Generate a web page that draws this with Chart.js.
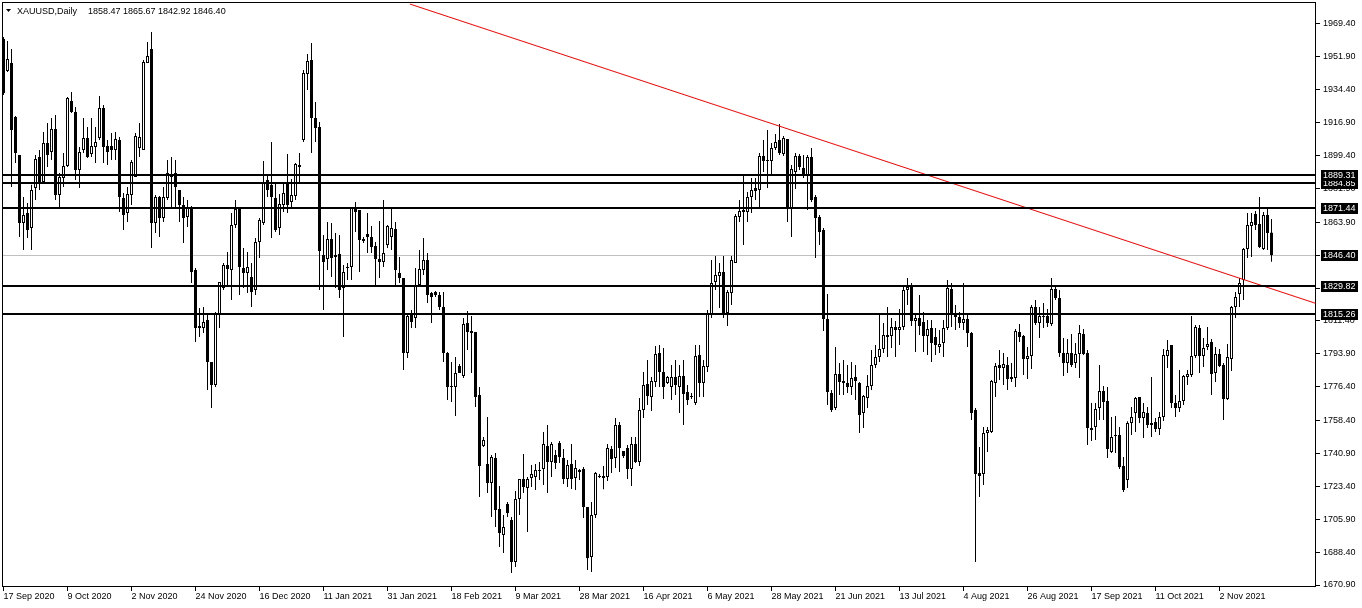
<!DOCTYPE html>
<html>
<head>
<meta charset="utf-8">
<title>XAUUSD Daily</title>
<script src="https://cdn.jsdelivr.net/npm/chart.js@4"></script>
<style>
  html, body { margin: 0; padding: 0; background: #fff; }
  canvas { display: block; }
</style>
</head>
<body>
<canvas id="grafica" width="1362" height="608"></canvas>
<script>
// velas diarias XAUUSD (17 Sep 2020 -> 19 Nov 2021)
const openP = [
  1961.4,1944.4,1948.6,1919.9,1899.7,1863.5,1868.8,1860.8,1882.1,1898.6,
  1885.3,1906.1,1901.3,1913.5,1878.4,1887.5,1893.8,1928.4,1922.6,1891.7,
  1902.4,1908.8,1900.2,1903.9,1908.8,1924.7,1904.5,1904.5,1902.4,1907.7,
  1876.8,1868.8,1878.4,1888.0,1903.4,1902.4,1948.6,1956.1,1863.5,1877.3,
  1866.2,1876.8,1888.0,1890.1,1881.1,1873.1,1866.7,1872.0,1838.5,1808.7,
  1807.6,1811.9,1789.6,1777.3,1814.6,1828.9,1841.2,1838.5,1862.4,1871.0,
  1839.6,1836.9,1834.8,1827.9,1853.4,1863.5,1886.4,1883.8,1876.8,1860.8,
  1873.1,1884.8,1874.7,1877.9,1894.4,1907.7,1942.8,1950.2,1919.4,1914.6,
  1846.5,1844.4,1855.0,1846.5,1847.0,1828.9,1839.6,1840.1,1871.5,1870.4,
  1853.9,1857.6,1856.1,1851.3,1844.4,1842.8,1851.8,1856.1,1860.3,1836.9,
  1834.3,1794.3,1815.6,1813.0,1830.5,1838.5,1843.8,1826.3,1826.8,1825.2,
  1818.8,1794.3,1776.8,1776.2,1787.4,1782.1,1810.3,1806.0,1805.5,1772.0,
  1744.9,1735.3,1725.2,1738.5,1711.3,1697.5,1714.0,1705.5,1683.1,1716.7,
  1727.3,1722.5,1727.9,1728.4,1731.6,1732.6,1744.9,1736.3,1740.1,1746.4,
  1738.5,1727.3,1735.3,1727.9,1732.1,1732.6,1712.4,1685.8,1708.1,1728.4,
  1727.9,1728.4,1743.3,1738.5,1756.0,1742.2,1743.8,1732.6,1745.9,1736.3,
  1764.0,1777.8,1770.9,1778.9,1794.3,1784.2,1778.4,1776.2,1781.6,1776.2,
  1782.1,1773.6,1771.5,1767.7,1793.3,1778.4,1786.9,1814.6,1832.1,1835.3,
  1837.4,1815.6,1826.3,1842.2,1866.7,1869.4,1869.4,1877.3,1882.1,1881.1,
  1899.2,1896.5,1896.5,1903.4,1907.7,1900.2,1908.2,1871.5,1890.6,1899.2,
  1892.8,1889.1,1898.6,1877.3,1866.7,1859.8,1812.4,1773.1,1765.1,1783.2,
  1778.4,1778.4,1776.2,1781.6,1778.4,1762.4,1770.4,1776.8,1787.9,1792.2,
  1796.5,1803.9,1803.4,1808.2,1806.6,1808.2,1827.9,1830.5,1811.4,1813.0,
  1810.8,1803.4,1807.6,1802.8,1797.5,1799.7,1807.6,1828.4,1814.6,1813.5,
  1810.3,1812.4,1805.0,1764.0,1730.5,1730.0,1751.8,1752.3,1778.4,1787.9,
  1786.3,1787.9,1780.5,1781.0,1805.5,1803.4,1791.1,1792.7,1818.8,1810.3,
  1813.5,1814.0,1809.8,1828.4,1823.6,1794.3,1789.0,1794.3,1789.0,1793.8,
  1804.5,1794.3,1754.4,1755.0,1765.1,1774.1,1768.8,1741.7,1750.7,1750.7,
  1734.2,1726.8,1757.1,1762.4,1770.9,1759.8,1762.4,1756.0,1757.6,1753.9,
  1760.3,1792.7,1798.6,1767.7,1765.1,1768.8,1781.6,1782.6,1792.7,1807.6,
  1792.7,1797.5,1800.2,1783.7,1793.8,1787.9,1769.9,1791.1,1818.8,1825.7,
  1833.2,1849.7,1861.9,1868.3,1863.0,1849.7,1867.8,1858.47
];
const highP = [
  1962.5,1960.3,1956.1,1920.4,1899.7,1877.3,1874.2,1883.8,1899.7,1902.4,
  1911.9,1916.7,1919.4,1921.0,1890.1,1900.8,1930.5,1933.2,1925.2,1904.0,
  1919.4,1914.6,1919.4,1914.6,1931.1,1926.3,1907.7,1911.4,1911.9,1909.3,
  1879.5,1882.7,1897.0,1911.4,1916.7,1950.2,1959.8,1965.1,1878.4,1877.9,
  1882.7,1897.0,1898.6,1897.0,1881.1,1877.3,1875.8,1872.6,1839.6,1818.3,
  1818.8,1815.6,1789.6,1816.2,1832.1,1842.2,1848.1,1868.8,1875.8,1871.0,
  1850.2,1848.1,1842.2,1855.5,1866.2,1896.5,1889.1,1906.6,1884.8,1878.9,
  1884.8,1900.2,1886.9,1895.4,1900.8,1944.9,1953.4,1959.3,1927.9,1917.3,
  1857.1,1864.0,1863.5,1858.2,1857.1,1841.2,1842.2,1872.0,1874.7,1870.4,
  1856.1,1868.8,1861.9,1853.4,1864.6,1875.8,1862.4,1872.0,1864.0,1845.4,
  1834.3,1814.6,1817.2,1839.6,1849.2,1855.5,1847.5,1826.8,1827.3,1826.8,
  1826.8,1794.9,1789.6,1792.2,1788.5,1813.0,1816.7,1814.0,1805.5,1776.2,
  1749.6,1760.3,1740.1,1741.1,1723.6,1708.1,1715.1,1707.1,1720.9,1727.3,
  1740.6,1728.4,1734.8,1735.3,1736.3,1752.3,1756.0,1747.0,1742.7,1747.5,
  1743.3,1737.4,1745.9,1737.4,1732.6,1733.7,1712.4,1715.1,1731.0,1730.0,
  1734.2,1745.9,1744.9,1759.8,1757.6,1742.2,1745.4,1749.6,1749.6,1770.4,
  1784.2,1790.6,1781.6,1798.1,1798.6,1797.0,1782.1,1787.9,1790.6,1787.9,
  1790.6,1777.3,1773.1,1798.6,1798.6,1790.6,1817.2,1843.8,1845.9,1842.2,
  1845.9,1827.9,1845.9,1868.3,1875.8,1889.1,1880.0,1887.5,1887.5,1900.8,
  1907.7,1913.0,1906.1,1910.9,1916.2,1909.8,1908.2,1894.4,1900.8,1900.2,
  1899.7,1899.7,1903.4,1878.4,1867.8,1860.8,1825.7,1774.7,1797.5,1789.0,
  1790.6,1787.9,1789.6,1787.9,1778.9,1772.0,1782.6,1795.9,1798.6,1815.6,
  1810.3,1818.8,1813.0,1811.4,1817.8,1830.5,1834.3,1831.6,1815.6,1825.2,
  1816.2,1811.9,1811.9,1807.6,1806.6,1811.9,1833.2,1831.6,1819.9,1816.2,
  1831.6,1815.6,1805.5,1765.1,1744.3,1755.0,1755.0,1780.0,1789.0,1795.9,
  1794.3,1792.2,1789.0,1807.1,1809.8,1803.9,1797.5,1819.9,1822.5,1818.8,
  1820.9,1817.8,1834.3,1830.5,1827.9,1802.3,1801.8,1804.5,1799.7,1809.2,
  1807.1,1795.9,1767.7,1767.7,1787.9,1776.8,1776.2,1760.3,1760.8,1755.0,
  1739.0,1758.0,1765.6,1770.9,1770.9,1767.7,1765.6,1781.6,1759.8,1762.9,
  1796.5,1801.3,1798.6,1772.0,1785.3,1782.6,1785.3,1814.0,1809.2,1809.2,
  1802.3,1808.2,1801.8,1797.5,1796.5,1789.0,1799.1,1819.4,1826.8,1834.3,
  1850.2,1868.8,1868.8,1869.9,1877.3,1869.4,1872.0,1865.67
];
const lowP = [
  1931.6,1943.9,1882.7,1895.4,1856.1,1849.2,1855.5,1849.2,1875.8,1881.1,
  1884.8,1893.3,1897.0,1875.8,1872.0,1882.7,1893.3,1922.0,1886.4,1882.1,
  1900.8,1898.1,1898.6,1895.4,1907.7,1895.4,1894.4,1897.0,1897.0,1869.4,
  1859.8,1864.0,1873.1,1888.0,1898.6,1902.4,1948.6,1850.2,1858.2,1856.1,
  1864.0,1875.8,1872.0,1872.0,1864.0,1852.9,1861.4,1831.6,1800.2,1802.8,
  1805.0,1774.7,1765.1,1776.2,1807.6,1827.9,1829.5,1822.5,1860.8,1825.2,
  1828.9,1826.3,1818.8,1825.2,1844.9,1862.4,1877.3,1855.5,1858.7,1857.1,
  1869.4,1868.8,1872.0,1875.8,1885.3,1906.6,1934.3,1900.8,1906.6,1827.9,
  1817.2,1838.5,1834.8,1828.9,1823.6,1802.8,1833.2,1833.2,1858.7,1837.4,
  1852.9,1847.5,1847.5,1830.5,1834.3,1840.1,1850.2,1849.2,1829.5,1831.6,
  1785.3,1791.7,1807.6,1807.6,1829.5,1835.8,1821.0,1810.3,1824.1,1817.2,
  1789.6,1769.3,1768.3,1760.8,1783.7,1781.0,1795.9,1783.7,1765.6,1717.7,
  1744.3,1719.8,1707.1,1701.8,1691.1,1687.9,1707.1,1677.3,1680.5,1708.1,
  1719.8,1699.1,1723.0,1721.4,1726.8,1724.1,1719.8,1728.4,1732.6,1735.8,
  1724.6,1723.0,1722.0,1721.4,1726.8,1706.6,1678.9,1677.8,1706.6,1727.9,
  1721.9,1726.2,1730.5,1733.2,1731.0,1738.5,1727.3,1723.6,1735.8,1734.2,
  1759.8,1766.7,1763.5,1776.2,1776.2,1769.9,1777.8,1769.3,1772.0,1762.4,
  1756.0,1766.7,1769.9,1766.7,1770.9,1770.9,1784.2,1813.0,1827.9,1818.3,
  1813.0,1808.7,1819.9,1842.2,1864.0,1851.8,1864.0,1868.8,1875.8,1872.0,
  1890.6,1882.1,1889.1,1902.4,1899.7,1899.2,1864.0,1856.1,1881.6,1891.7,
  1887.5,1870.4,1874.7,1844.9,1851.8,1806.0,1766.7,1763.0,1764.0,1772.0,
  1772.0,1773.1,1772.0,1769.3,1751.8,1754.4,1765.1,1774.7,1786.3,1789.6,
  1794.3,1792.2,1797.0,1792.2,1798.6,1806.6,1819.9,1808.7,1794.9,1803.9,
  1794.9,1793.3,1789.6,1793.3,1794.3,1792.2,1806.6,1808.2,1806.6,1807.6,
  1806.6,1797.5,1758.7,1683.1,1717.7,1724.1,1741.7,1751.8,1770.9,1780.0,
  1777.3,1774.7,1778.9,1776.2,1800.2,1782.6,1780.5,1785.8,1809.2,1802.3,
  1807.6,1808.2,1808.7,1822.5,1792.2,1782.1,1783.7,1786.9,1786.3,1781.0,
  1793.3,1745.4,1747.5,1748.1,1758.7,1758.7,1738.5,1741.1,1741.1,1732.6,
  1720.4,1722.5,1750.7,1752.3,1757.1,1749.1,1754.4,1749.6,1752.3,1750.7,
  1758.2,1786.3,1765.1,1760.3,1762.9,1766.7,1777.3,1781.6,1791.7,1783.7,
  1786.9,1795.9,1772.0,1778.9,1786.9,1758.7,1769.3,1784.8,1813.0,1818.8,
  1822.5,1844.9,1845.4,1859.8,1850.2,1849.2,1849.2,1842.92
];
const closeP = [
  1932.7,1950.8,1913.0,1900.8,1863.5,1867.8,1859.8,1881.1,1897.6,1885.3,
  1906.1,1899.7,1913.5,1878.4,1888.0,1893.8,1930.0,1922.6,1891.7,1901.3,
  1908.8,1898.6,1904.5,1906.6,1924.7,1903.9,1901.3,1902.4,1908.2,1877.3,
  1867.8,1878.9,1896.0,1909.8,1909.3,1949.2,1952.4,1863.5,1877.3,1866.2,
  1877.3,1890.1,1889.0,1882.7,1873.1,1866.2,1871.5,1837.4,1807.6,1807.6,
  1810.8,1789.6,1777.3,1815.6,1832.1,1841.2,1839.0,1862.4,1871.0,1840.1,
  1836.9,1840.1,1826.8,1853.4,1865.1,1885.3,1881.1,1877.3,1859.8,1873.6,
  1879.5,1873.1,1878.4,1894.9,1893.3,1943.3,1949.7,1919.4,1914.1,1848.6,
  1842.8,1855.0,1844.9,1845.4,1827.9,1837.4,1840.1,1871.5,1869.4,1854.5,
  1855.0,1856.1,1850.7,1844.4,1842.8,1847.5,1861.9,1860.8,1838.5,1834.3,
  1794.3,1814.0,1810.8,1830.5,1839.0,1843.8,1825.2,1824.1,1825.2,1818.8,
  1794.3,1776.2,1776.2,1783.7,1783.7,1809.8,1805.5,1805.0,1770.9,1734.2,
  1748.1,1725.2,1739.0,1710.8,1698.6,1701.8,1709.2,1683.1,1716.7,1727.3,
  1723.0,1727.3,1730.0,1732.1,1732.1,1745.9,1736.3,1745.9,1735.8,1739.0,
  1727.3,1734.8,1727.3,1733.2,1731.0,1712.4,1685.2,1708.1,1730.5,1728.6,
  1728.9,1743.8,1737.9,1756.0,1743.8,1739.5,1732.6,1745.9,1736.3,1764.0,
  1777.3,1771.5,1779.4,1793.8,1784.2,1776.2,1781.6,1781.6,1777.3,1782.1,
  1772.5,1769.3,1770.9,1792.7,1778.4,1787.4,1815.1,1831.6,1835.8,1837.4,
  1815.6,1826.8,1843.8,1867.2,1869.9,1870.4,1877.3,1881.1,1880.5,1899.2,
  1896.5,1896.8,1903.4,1906.6,1900.8,1908.8,1871.0,1892.3,1899.2,1893.3,
  1889.1,1898.6,1875.8,1866.2,1858.7,1812.4,1773.6,1764.0,1783.2,1778.9,
  1779.4,1776.2,1781.0,1779.4,1761.3,1771.5,1776.8,1787.9,1792.2,1796.5,
  1803.9,1802.8,1808.2,1806.6,1808.2,1827.9,1829.5,1811.4,1813.0,1808.7,
  1803.4,1807.1,1799.7,1798.6,1799.1,1807.6,1828.9,1814.6,1813.5,1810.3,
  1812.4,1805.0,1762.4,1730.0,1728.9,1751.8,1753.4,1779.4,1787.4,1786.3,
  1788.5,1780.5,1781.6,1806.0,1802.8,1791.1,1792.7,1818.8,1810.3,1814.0,
  1814.0,1810.3,1828.4,1823.6,1794.3,1789.0,1794.3,1787.9,1793.8,1805.0,
  1793.8,1754.4,1753.4,1764.6,1774.1,1768.3,1743.3,1749.6,1750.2,1733.7,
  1721.4,1757.1,1760.3,1770.4,1759.8,1762.9,1756.0,1757.1,1753.9,1760.3,
  1793.3,1795.9,1767.7,1765.1,1768.8,1782.1,1783.2,1792.7,1808.2,1792.7,
  1797.0,1799.1,1783.2,1793.8,1787.4,1769.9,1792.2,1818.8,1824.1,1831.6,
  1849.7,1862.4,1864.0,1862.4,1850.7,1867.8,1858.2,1846.40
];

// etiquetas del eje de fechas (una cada 16 velas) y del eje de precios
const tickDates = ['17 Sep 2020','9 Oct 2020','2 Nov 2020','24 Nov 2020','16 Dec 2020',
  '11 Jan 2021','31 Jan 2021','18 Feb 2021','9 Mar 2021','28 Mar 2021','16 Apr 2021',
  '6 May 2021','28 May 2021','21 Jun 2021','13 Jul 2021','4 Aug 2021','26 Aug 2021',
  '17 Sep 2021','11 Oct 2021','2 Nov 2021'];
const tickBars = [0,16,32,48,64,80,96,112,128,144,160,176,192,208,224,240,256,272,288,304];
const priceTicks = [1969.40,1951.90,1934.40,1916.90,1899.40,1881.90,1863.90,1846.40,1828.90,
  1811.40,1793.90,1776.40,1758.40,1740.90,1723.40,1705.90,1688.40,1670.90];

// lineas horizontales (soportes / resistencias) y precio actual
const levels = [1889.31, 1884.85, 1871.44, 1829.82, 1815.26];
const lastPrice = 1846.40;
// linea de tendencia roja: [indice de vela, precio]
const trendX = [101.6, 328.1];
const trendY = [1980.0, 1820.7];

const FONT = '"Liberation Sans", Arial, sans-serif';

const idx = closeP.map((_, i) => i);
const wickData = idx.map(i => ({ x: i, y: [lowP[i], highP[i]] }));
const bodyData = idx.map(i => ({ x: i, y: [openP[i], closeP[i]] }));
const bodyColors = idx.map(i => closeP[i] >= openP[i] ? '#ffffff' : '#000000');

const mt4 = {
  id: 'mt4',
  beforeDraw(chart) {
    const c = chart.ctx;
    c.save();
    c.fillStyle = '#fff';
    c.fillRect(0, 0, chart.width, chart.height);
    // linea gris del precio actual, detras de las velas
    const a = chart.chartArea, ys = chart.scales.y;
    c.fillStyle = '#c0c0c0';
    c.fillRect(a.left, Math.floor(ys.getPixelForValue(lastPrice)), a.right - a.left, 1);
    c.restore();
  },
  afterDatasetsDraw(chart) {
    const c = chart.ctx, a = chart.chartArea, ys = chart.scales.y;
    c.save();
    c.fillStyle = '#000';
    levels.forEach(v => {
      const y = Math.round(ys.getPixelForValue(v));
      c.fillRect(a.left, y - 1, a.right - a.left, 2);
    });
    c.restore();
  },
  afterDraw(chart) {
    const c = chart.ctx, a = chart.chartArea, ys = chart.scales.y;
    c.save();
    // marco
    c.strokeStyle = '#000';
    c.lineWidth = 1;
    c.strokeRect(a.left - 0.5, a.top - 0.5, a.right - a.left + 1, a.bottom - a.top + 1);
    // etiquetas negras en el eje de precios
    c.font = '9px ' + FONT;
    c.textBaseline = 'middle';
    const boxes = [lastPrice, 1829.82, 1815.26, 1871.44, 1884.85, 1889.31];
    boxes.forEach(v => {
      const y = Math.round(ys.getPixelForValue(v));
      const t = v.toFixed(2);
      c.fillStyle = '#000';
      c.fillRect(a.right + 6, y - 5, 37, 11);
      c.fillStyle = '#fff';
      c.fillText(t, a.right + 8, y + 0.5);
    });
    // titulo
    c.fillStyle = '#000';
    c.beginPath();
    c.moveTo(6, 9); c.lineTo(11, 9); c.lineTo(8.5, 12); c.closePath();
    c.fill();
    c.textBaseline = 'alphabetic';
    c.fillText('XAUUSD,Daily', 17, 14);
    c.fillText('1858.47 1865.67 1842.92 1846.40', 88, 14);
    c.restore();
  }
};

new Chart(document.getElementById('grafica'), {
  type: 'bar',
  data: {
    datasets: [
      {
        type: 'line',
        data: trendX.map((x, i) => ({ x: x, y: trendY[i] })),
        borderColor: '#ff0000',
        borderWidth: 1,
        pointRadius: 0,
        fill: false,
        order: 0
      },
      {
        data: bodyData,
        backgroundColor: bodyColors,
        borderColor: '#000',
        borderWidth: 1,
        borderSkipped: false,
        barThickness: 3,
        minBarLength: 1,
        inflateAmount: 0,
        grouped: false,
        order: 1
      },
      {
        data: wickData,
        backgroundColor: '#000',
        borderWidth: 0,
        barThickness: 1,
        inflateAmount: 0,
        grouped: false,
        order: 2
      }
    ]
  },
  options: {
    responsive: false,
    animation: false,
    events: [],
    layout: { padding: { left: 3, top: 3, right: 0, bottom: 0 } },
    plugins: { legend: { display: false }, tooltip: { enabled: false } },
    scales: {
      x: {
        type: 'linear',
        offset: false,
        min: -0.125,
        max: 327.875,
        afterFit: s => { s.height = 22; s.paddingLeft = 0; s.paddingRight = 0; },
        afterBuildTicks: s => { s.ticks = tickBars.map(v => ({ value: v })); },
        grid: { offset: false, drawOnChartArea: false, tickLength: 5, color: '#000' },
        border: { display: false },
        ticks: {
          autoSkip: false, maxRotation: 0, align: 'start', padding: 0,
          color: '#000', font: { family: FONT, size: 9 },
          callback: (v, i) => tickDates[i]
        }
      },
      y: {
        position: 'right',
        beginAtZero: false,
        min: 1670.37,
        max: 1980.57,
        afterFit: s => { s.width = 47; s.paddingTop = 0; s.paddingBottom = 0; },
        afterBuildTicks: s => { s.ticks = priceTicks.map(v => ({ value: v })); },
        grid: { drawOnChartArea: false, tickLength: 5, color: '#000' },
        border: { display: false },
        ticks: {
          autoSkip: false, padding: 3,
          color: '#000', font: { family: FONT, size: 9 },
          callback: v => Number(v).toFixed(2)
        }
      }
    }
  },
  plugins: [mt4]
});
</script>
</body>
</html>
